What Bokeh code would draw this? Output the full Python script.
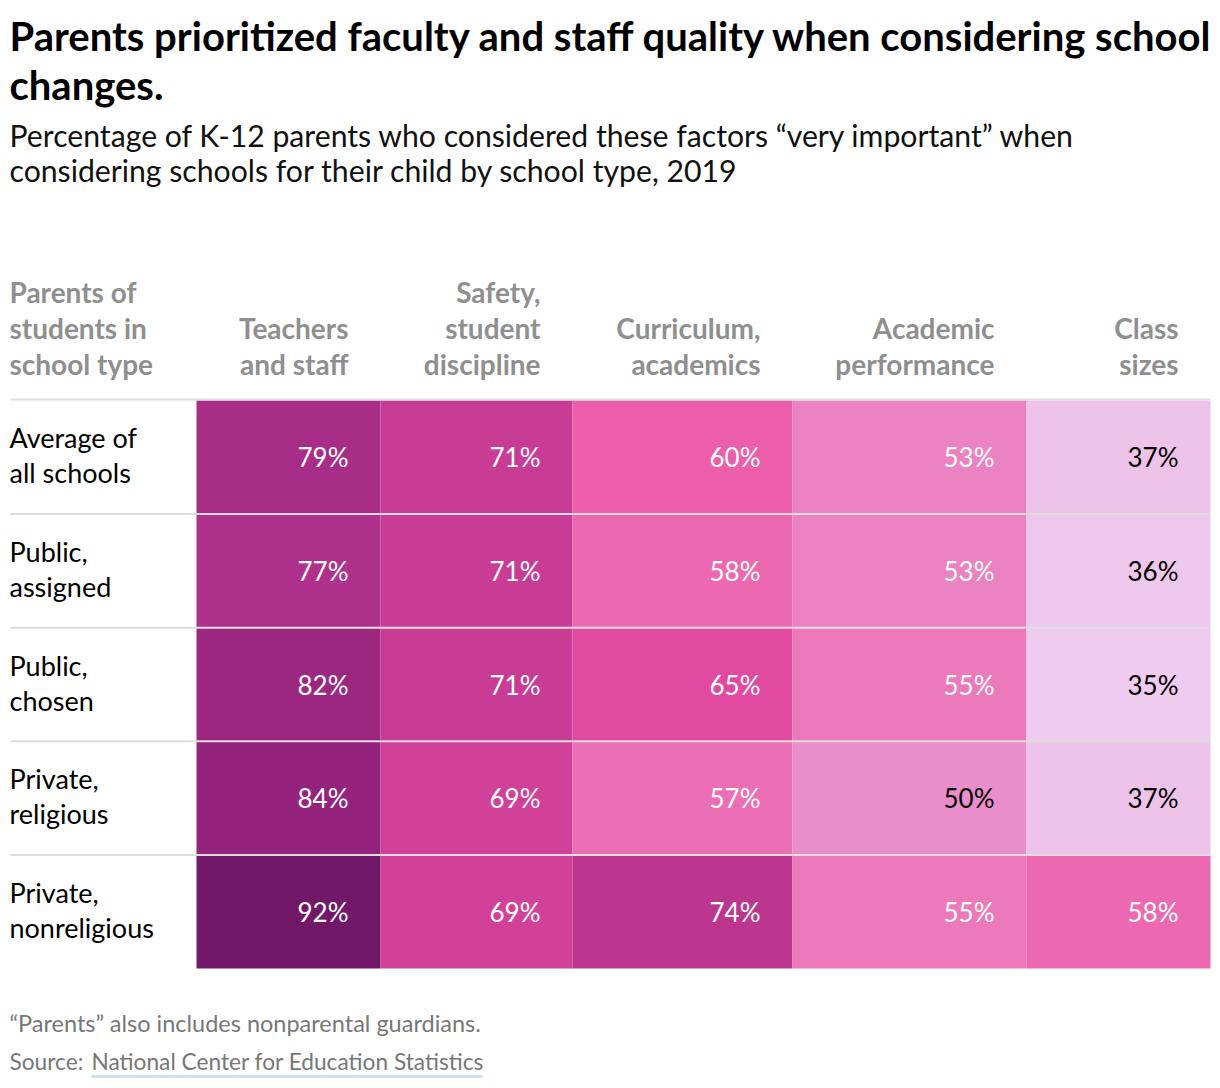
from bokeh.plotting import figure
from bokeh.models import Range1d, ColumnDataSource
from bokeh.core.properties import value
from bokeh.embed import file_html
from bokeh.resources import INLINE

# ---------------- data ----------------
title_lines = ["Parents prioritized faculty and staff quality when considering school", "changes."]
subtitle_lines = ["Percentage of K-12 parents who considered these factors \u201cvery important\u201d when",
                  "considering schools for their child by school type, 2019"]
row_header = ["Parents of", "students in", "school type"]
school_types = [["Average of", "all schools"], ["Public,", "assigned"], ["Public,", "chosen"],
                ["Private,", "religious"], ["Private,", "nonreligious"]]
factors = [["Teachers", "and staff"], ["Safety,", "student", "discipline"], ["Curriculum,", "academics"],
           ["Academic", "performance"], ["Class", "sizes"]]
teachers = [79, 77, 82, 84, 92]
safety = [71, 71, 71, 69, 69]
curriculum = [60, 58, 65, 57, 74]
academic = [53, 53, 55, 50, 55]
class_sizes = [37, 36, 35, 37, 58]
series = [teachers, safety, curriculum, academic, class_sizes]
note = "\u201cParents\u201d also includes nonparental guardians."
source_prefix = "Source:"
source_name = "National Center for Education Statistics"

# ---------------- style / layout ----------------
FONT = "Lato"
W, H = 1212, 1080
OX, OY = 0, 0
col_edges = [196, 380, 572, 792, 1026, 1210]
row_top, row_h = 400, 113.6
pad = 32
stops = [(35, (0xEE, 0xCB, 0xEF)), (50, (0xEA, 0x8E, 0xCB)), (55, (0xEC, 0x7A, 0xBB)),
         (60, (0xEC, 0x5D, 0xAA)), (65, (0xE2, 0x4A, 0xA1)), (71, (0xC8, 0x3C, 0x96)),
         (79, (0xA7, 0x2D, 0x87)), (84, (0x94, 0x23, 0x7D)), (92, (0x72, 0x18, 0x69))]


def colour(v):
    for (a, ca), (b, cb) in zip(stops[:-1], stops[1:]):
        if a <= v <= b:
            t = (v - a) / (b - a)
            c = [round(ca[k] + (cb[k] - ca[k]) * t) for k in range(3)]
            return "#%02x%02x%02x" % tuple(c)
    return "#%02x%02x%02x" % (stops[-1][1] if v > stops[-1][0] else stops[0][1])


p = figure(width=W, height=H, x_range=Range1d(0, W), y_range=Range1d(H, 0),
           output_backend="svg", toolbar_location=None, min_border=0,
           x_axis_location=None, y_axis_location=None)
p.grid.visible = False
p.outline_line_color = None
p.background_fill_color = "white"
p.border_fill_color = "white"

def X(v):
    return v - OX

def Y(v):
    return v - OY

# title
p.text(x=[X(9)] * 2, y=[Y(35), Y(84)], text=title_lines, text_font=value(FONT),
       text_font_style="bold", text_font_size="40px", text_baseline="middle", text_color="#000000")
# subtitle
p.text(x=[X(9)] * 2, y=[Y(134), Y(169)], text=subtitle_lines, text_font=value(FONT),
       text_font_size="30.2px", text_baseline="middle", text_color="#111111")

# header
hdr_line_gap = 36
hx, hy, ht, ha = [], [], [], []
for k, t in enumerate(row_header):
    hx.append(X(9)); hy.append(Y(363 - (len(row_header) - 1 - k) * hdr_line_gap)); ht.append(t); ha.append("left")
for j, lines in enumerate(factors):
    for k, t in enumerate(lines):
        hx.append(X(col_edges[j + 1] - pad))
        hy.append(Y(363 - (len(lines) - 1 - k) * hdr_line_gap))
        ht.append(t); ha.append("right")
p.text(x="x", y="y", text="t", text_align="a",
       source=ColumnDataSource(dict(x=hx, y=hy, t=ht, a=ha)),
       text_font=value(FONT), text_font_style="bold", text_font_size="28px",
       text_baseline="middle", text_color="#8f8f8f")

# cells
L, R, T, B, C, TX, TY, TT, TC = [], [], [], [], [], [], [], [], []
for j, vals in enumerate(series):
    for i, v in enumerate(vals):
        top = row_top + i * row_h
        L.append(X(col_edges[j])); R.append(X(col_edges[j + 1]))
        T.append(Y(top)); B.append(Y(top + row_h))
        C.append(colour(v))
        TX.append(X(col_edges[j + 1] - pad)); TY.append(Y(top + row_h / 2))
        TT.append(f"{v}%"); TC.append("#000000" if v <= 50 else "#ffffff")
p.quad(left="l", right="r", top="t", bottom="b", fill_color="c", line_color=None,
       source=ColumnDataSource(dict(l=L, r=R, t=T, b=B, c=C)))
p.text(x="x", y="y", text="t", text_color="c", source=ColumnDataSource(dict(x=TX, y=TY, t=TT, c=TC)),
       text_font=value(FONT), text_font_size="26px", text_align="right", text_baseline="middle")

# separators
sep_y = [row_top - 1] + [row_top + i * row_h for i in range(1, len(school_types))]
p.segment(x0=[X(10)] * len(sep_y), x1=[X(1210)] * len(sep_y), y0=[Y(v) for v in sep_y],
          y1=[Y(v) for v in sep_y], line_color="#dddddd", line_width=2)

# row labels
lx, ly, lt = [], [], []
for i, lines in enumerate(school_types):
    cy = row_top + i * row_h + row_h / 2 - 2
    for k, t in enumerate(lines):
        lx.append(X(9)); ly.append(Y(cy + (k - (len(lines) - 1) / 2) * 35)); lt.append(t)
p.text(x="x", y="y", text="t", source=ColumnDataSource(dict(x=lx, y=ly, t=lt)),
       text_font=value(FONT), text_font_size="27px", text_baseline="middle", text_color="#000000")

# footer
p.text(x=[X(9)], y=[Y(1022)], text=[note], text_font=value(FONT), text_font_size="23.5px",
       text_baseline="middle", text_color="#777777")
p.text(x=[X(9), X(91)], y=[Y(1061)] * 2, text=[source_prefix, source_name], text_font=value(FONT),
       text_font_size="22.7px", text_baseline="middle", text_color="#777777")
p.segment(x0=[X(91)], x1=[X(482)], y0=[Y(1076)], y1=[Y(1076)], line_color="#bfe0ee", line_width=2.5)

open("out.html", "w").write(file_html(p, INLINE))
